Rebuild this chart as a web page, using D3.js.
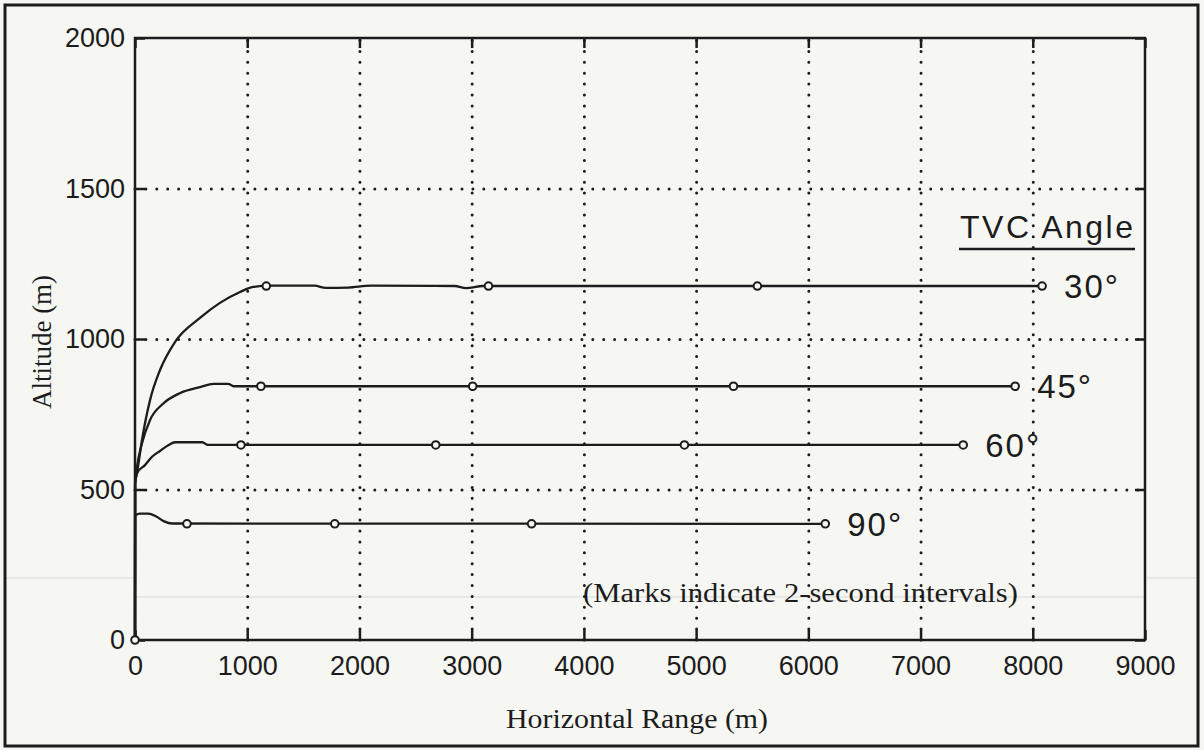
<!DOCTYPE html>
<html>
<head>
<meta charset="utf-8">
<script src="https://cdn.jsdelivr.net/npm/d3@7"></script>
<style>
  body { margin: 0; background: #f6f6f3; }
  svg { display: block; }
</style>
</head>
<body>
<div id="chart"></div>
<script>
// ---- data ----
const xTicks = [0, 1000, 2000, 3000, 4000, 5000, 6000, 7000, 8000, 9000];
const yTicks = [0, 500, 1000, 1500, 2000];
const angles = ["30°", "45°", "60°", "90°"];

// trajectories: [horizontal range, altitude]
const path30 = [[0,0],[1,520],[18,555],[62,664],[134,797],[223,897],[356,990],[579,1070],[757,1120],[936,1156],[1052,1173],[1200,1177],[1600,1177],[1700,1170],[1900,1171],[2100,1177],[2850,1176],[2950,1169],[3100,1176],[8083,1176]];
const path45 = [[0,0],[1,520],[20,580],[60,650],[134,731],[250,785],[400,820],[579,840],[700,851],[830,851],[880,843],[7843,843]];
const path60 = [[0,0],[1,520],[20,555],[89,581],[150,608],[223,628],[300,648],[356,657],[600,657],[650,648],[7380,648]];
const path90 = [[0,0],[1,412],[40,420],[120,420],[190,410],[260,394],[330,387],[6151,386]];

// 2-second marks
const marks30 = [[1170,1176],[3150,1176],[5546,1176],[8083,1176]];
const marks45 = [[1122,843],[3009,843],[5333,843],[7843,843]];
const marks60 = [[944,648],[2680,648],[4896,648],[7380,648]];
const marks90 = [[463,386],[1780,386],[3534,386],[6151,386]];
const originMark = [[0,0]];

const paths = [path30, path45, path60, path90];
const marks = [marks30, marks45, marks60, marks90];

// ---- layout ----
const width = 1204, height = 750;
const pLeft = 135, pRight = 1145, pTop = 38, pBottom = 640;
const ink = "#1c1c1c";
const sans = "'Liberation Sans', Arial, sans-serif";
const serif = "'Liberation Serif', 'Times New Roman', serif";

const svg = d3.select("#chart").append("svg")
    .attr("width", width)
    .attr("height", height);

const x = d3.scaleLinear().domain([0, 9000]).range([pLeft, pRight]);
const y = d3.scaleLinear().domain([0, 2000]).range([pBottom, pTop]);

// faint scanner streaks
svg.append("line").attr("x1", 6).attr("x2", 134).attr("y1", 578).attr("y2", 578)
  .attr("stroke", "#d9d9d9").attr("stroke-width", 1);
svg.append("line").attr("x1", 1147).attr("x2", 1196).attr("y1", 578).attr("y2", 578)
  .attr("stroke", "#d9d9d9").attr("stroke-width", 1);
svg.append("line").attr("x1", 136).attr("x2", 1144).attr("y1", 597).attr("y2", 597)
  .attr("stroke", "#d9d9d9").attr("stroke-width", 1);

// outer frame
svg.append("rect")
  .attr("x", 5).attr("y", 5).attr("width", 1193).attr("height", 741)
  .attr("fill", "none").attr("stroke", ink).attr("stroke-width", 3);

// dotted grid
const gridX = svg.append("g")
  .attr("transform", `translate(0,${pBottom})`)
  .call(d3.axisBottom(x).tickValues(xTicks.slice(1, -1)).tickSize(-(pBottom - pTop)).tickFormat(""));
const gridY = svg.append("g")
  .attr("transform", `translate(${pLeft},0)`)
  .call(d3.axisLeft(y).tickValues(yTicks.slice(1, -1)).tickSize(-(pRight - pLeft)).tickFormat(""));
[gridX, gridY].forEach(g => {
  g.select(".domain").remove();
  g.selectAll("line")
    .attr("stroke", ink)
    .attr("stroke-width", 3)
    .attr("stroke-linecap", "round")
    .attr("stroke-dasharray", "0 10.9");
});

// inward tick marks on all four sides
const tickAxes = [
  [d3.axisBottom(x).tickValues(xTicks), `translate(0,${pBottom})`],
  [d3.axisTop(x).tickValues(xTicks), `translate(0,${pTop})`],
  [d3.axisLeft(y).tickValues(yTicks), `translate(${pLeft},0)`],
  [d3.axisRight(y).tickValues(yTicks), `translate(${pRight},0)`]
];
tickAxes.forEach(([ax, tr]) => {
  const g = svg.append("g").attr("transform", tr)
    .call(ax.tickSize(-10).tickFormat(""));
  g.select(".domain").remove();
  g.selectAll("line").attr("stroke", ink).attr("stroke-width", 2.5);
});

// tick labels
const xl = svg.append("g")
  .attr("transform", `translate(0,${pBottom})`)
  .call(d3.axisBottom(x).tickValues(xTicks).tickFormat(d3.format("d")).tickSize(0).tickPadding(16));
const yl = svg.append("g")
  .attr("transform", `translate(${pLeft},0)`)
  .call(d3.axisLeft(y).tickValues(yTicks).tickFormat(d3.format("d")).tickSize(0).tickPadding(10));
[xl, yl].forEach(g => {
  g.select(".domain").remove();
  g.selectAll("text")
    .attr("fill", ink)
    .style("font-family", sans)
    .style("font-size", "27px");
});

// plot frame
svg.append("rect")
  .attr("x", pLeft).attr("y", pTop)
  .attr("width", pRight - pLeft).attr("height", pBottom - pTop)
  .attr("fill", "none").attr("stroke", ink).attr("stroke-width", 2.5);

// trajectories
const line = d3.line()
  .x(d => x(d[0]))
  .y(d => y(d[1]))
  .curve(d3.curveMonotoneX);

svg.append("g").selectAll("path")
  .data(paths)
  .join("path")
    .attr("d", line)
    .attr("fill", "none")
    .attr("stroke", ink)
    .attr("stroke-width", 2.3);

// marks
svg.append("g").selectAll("circle")
  .data(marks.flat().concat(originMark))
  .join("circle")
    .attr("cx", d => x(d[0]))
    .attr("cy", d => y(d[1]))
    .attr("r", 3.8)
    .attr("fill", "#f6f6f3")
    .attr("stroke", ink)
    .attr("stroke-width", 2);

// angle labels at the end of each curve
svg.append("g").selectAll("text")
  .data(paths)
  .join("text")
    .attr("x", d => x(d[d.length - 1][0]) + 22)
    .attr("y", d => y(d[d.length - 1][1]))
    .attr("dy", "0.36em")
    .attr("fill", ink)
    .style("font-family", sans)
    .style("font-size", "33px")
    .style("letter-spacing", "2px")
    .text((d, i) => angles[i]);

// legend title
svg.append("text")
  .attr("x", 960).attr("y", 238)
  .attr("fill", ink)
  .style("font-family", sans)
  .style("font-size", "32px")
  .style("letter-spacing", "2.5px")
  .text("TVC Angle");
svg.append("line")
  .attr("x1", 959).attr("x2", 1135).attr("y1", 249).attr("y2", 249)
  .attr("stroke", ink).attr("stroke-width", 2.5);

// note
svg.append("text")
  .attr("x", 583).attr("y", 602)
  .attr("fill", ink)
  .attr("textLength", 435)
  .attr("lengthAdjust", "spacingAndGlyphs")
  .style("font-family", serif)
  .style("font-size", "28px")
  .text("(Marks indicate 2-second intervals)");

// axis titles
svg.append("text")
  .attr("x", 637).attr("y", 728)
  .attr("text-anchor", "middle")
  .attr("fill", ink)
  .attr("textLength", 262)
  .attr("lengthAdjust", "spacingAndGlyphs")
  .style("font-family", serif)
  .style("font-size", "28px")
  .text("Horizontal Range (m)");

svg.append("text")
  .attr("transform", "translate(42,342) rotate(-90)")
  .attr("text-anchor", "middle")
  .attr("dy", "0.35em")
  .attr("fill", ink)
  .style("font-family", serif)
  .style("font-size", "27px")
  .text("Altitude (m)");
</script>
</body>
</html>
